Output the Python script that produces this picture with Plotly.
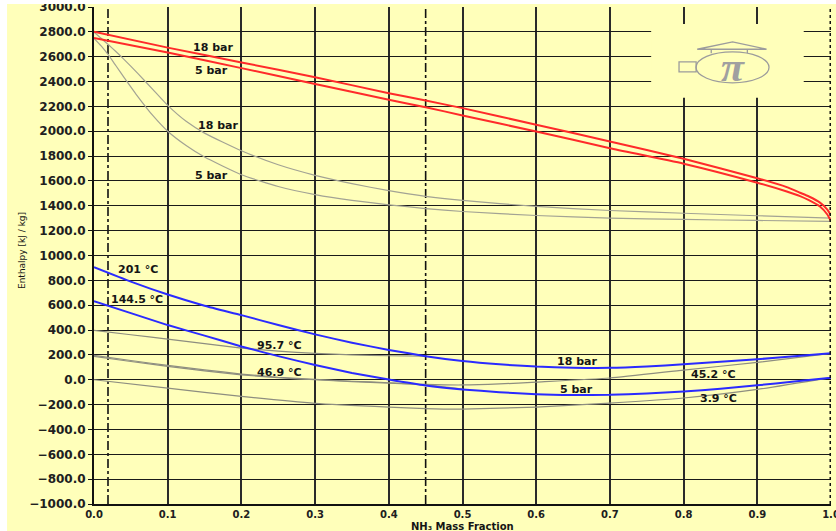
import plotly.graph_objects as go

# ---------------- data ----------------
# saturated vapour (dew) lines, red
dew_x = [0, 0.1, 0.2, 0.3, 0.4, 0.45, 0.5, 0.6, 0.7, 0.8, 0.9, 0.94, 0.958, 0.97, 0.985, 0.995, 1.0]
dew18_h = [2800, 2673, 2554, 2435, 2306, 2247, 2186, 2052, 1918, 1779, 1622, 1550, 1505, 1475, 1426, 1370, 1322]
dew5_h = [2750, 2633, 2508, 2381, 2253, 2194, 2127, 1998, 1864, 1739, 1586, 1515, 1478, 1445, 1394, 1330, 1275]

# auxiliary vapour lines, grey
aux_x = [0, 0.01, 0.02, 0.03, 0.04, 0.06, 0.08, 0.1, 0.125, 0.15, 0.2, 0.25, 0.3, 0.35, 0.4, 0.45, 0.5, 0.6, 0.7, 0.8, 0.9, 1.0]
aux18_h = [2797, 2747, 2694, 2640, 2583, 2462, 2335, 2208, 2080, 1985, 1843, 1730, 1645, 1578, 1522, 1476, 1443, 1395, 1362, 1340, 1320, 1301]
aux5_h = [2748, 2685, 2610, 2525, 2440, 2275, 2125, 2000, 1885, 1792, 1650, 1555, 1490, 1443, 1408, 1378, 1354, 1322, 1301, 1290, 1282, 1274]

# saturated liquid (bubble) lines, blue
bub_x = [0, 0.05, 0.1, 0.15, 0.2, 0.25, 0.3, 0.35, 0.4, 0.45, 0.5, 0.55, 0.6, 0.65, 0.7, 0.75, 0.8, 0.85, 0.9, 0.95, 1.0]
bub18_h = [906, 790, 686, 596, 520, 440, 365, 298, 240, 190, 151, 124, 106, 97, 96, 107, 124, 144, 165, 189, 213]
bub5_h = [633, 536, 440, 355, 268, 190, 119, 55, 2, -46, -78, -100, -117, -123, -121, -110, -95, -72, -45, -15, 17]

# liquid isotherms, grey
iso957_x = [0, 0.05, 0.1, 0.15, 0.2, 0.25, 0.3, 0.35, 0.4, 0.45]
iso957_h = [398, 362, 327, 290, 255, 230, 212, 200, 193, 190]
iso469_x = [0, 0.05, 0.1, 0.15, 0.2, 0.25, 0.3, 0.35, 0.4, 0.45, 0.5]
iso469_h = [196, 155, 115, 80, 46, 20, 3, -12, -24, -42, -76]
iso452_x = [0, 0.05, 0.1, 0.15, 0.2, 0.25, 0.3, 0.35, 0.4, 0.45, 0.5, 0.55, 0.6, 0.7, 0.8, 0.9, 1.0]
iso452_h = [188, 147, 108, 72, 40, 16, 0, -15, -27, -38, -42, -34, -19, 14, 78, 140, 213]
iso39_x = [0, 0.1, 0.2, 0.3, 0.4, 0.45, 0.5, 0.6, 0.7, 0.8, 0.9, 1.0]
iso39_h = [0, -67, -134, -190, -220, -232, -236, -220, -188, -147, -78, 17]

# reference vertical markers (mass fractions)
marker_x = [0.019, 0.45]

# tick values
x_ticks = [0.0, 0.1, 0.2, 0.3, 0.4, 0.5, 0.6, 0.7, 0.8, 0.9, 1.0]
y_ticks = [3000, 2800, 2600, 2400, 2200, 2000, 1800, 1600, 1400, 1200, 1000, 800, 600, 400,
           200, 0, -200, -400, -600, -800, -1000]

# curve labels
label_text = ["18 bar", "5 bar", "18 bar", "5 bar", "201 °C", "144.5 °C", "95.7 °C", "46.9 °C",
              "18 bar", "5 bar", "45.2 °C", "3.9 °C"]
label_x = [0.1615, 0.160, 0.168, 0.160, 0.0597, 0.0583, 0.252, 0.252, 0.655, 0.655, 0.841, 0.847]
label_y = [2671, 2486, 2044, 1641, 885, 644, 274, 56, 145, -80, 40, -153]

# ---------------- styling ----------------
BG = "#FFFFBA"
RED = "#FF2A2A"
BLUE = "#2A2AFF"
GREY_V = "#A3A394"
GREY_L = "#8E8E80"
LOGO = "#9C9C9C"
FONT = "DejaVu Sans"

fig = go.Figure()

def line(x, y, color, width):
    fig.add_trace(go.Scatter(x=x, y=y, mode="lines",
                             line=dict(color=color, width=width, shape="spline", smoothing=0.5),
                             hoverinfo="skip", showlegend=False))

line(aux_x, aux18_h, GREY_V, 1.2)
line(aux_x, aux5_h, GREY_V, 1.2)
line(iso957_x, iso957_h, GREY_L, 1.2)
line(iso469_x, iso469_h, GREY_L, 1.2)
line(iso452_x, iso452_h, GREY_L, 1.2)
line(iso39_x, iso39_h, GREY_L, 1.2)
line(dew_x, dew18_h, RED, 2)
line(dew_x, dew5_h, RED, 2)
line(bub_x, bub18_h, BLUE, 2)
line(bub_x, bub5_h, BLUE, 2)

for xv in marker_x:
    fig.add_vline(x=xv, line=dict(color="#111111", width=1.6, dash="dashdot"), layer="below")
fig.add_vline(x=x_ticks[-1], line=dict(color="#111111", width=3, dash="dot"), layer="above")

for t, xv, yv in zip(label_text, label_x, label_y):
    fig.add_annotation(x=xv, y=yv, text=t, showarrow=False, xanchor="center", yanchor="middle",
                       font=dict(family=FONT, size=11, color="#151515", weight="bold"))

# logo background box (hides grid)
fig.add_shape(type="rect", xref="x", yref="y", x0=0.756, x1=0.963, y0=2269, y1=2863,
              fillcolor=BG, line=dict(width=0), layer="between")
fig.add_shape(type="circle", xref="x", yref="y", x0=0.8168, x1=0.9159, y0=2390, y1=2639,
              line=dict(color=LOGO, width=1.3), layer="above")
fig.add_shape(type="rect", xref="x", yref="y", x0=0.7938, x1=0.8170, y0=2478, y1=2558,
              line=dict(color=LOGO, width=1.3), layer="above")
fig.add_shape(type="path", xref="x", yref="y",
              path="M 0.8185 2660 L 0.8665 2720 L 0.9125 2660 Z M 0.8375 2660 L 0.8375 2628 M 0.8865 2660 L 0.8865 2628",
              line=dict(color=LOGO, width=1.3), layer="above")
# white page border strips
fig.add_shape(type="rect", xref="paper", yref="paper", x0=-0.2, x1=-0.118, y0=-0.2, y1=1.2,
              fillcolor="white", line=dict(width=0), layer="above")
fig.add_shape(type="rect", xref="paper", yref="paper", x0=-0.2, x1=1.2, y0=1.006, y1=1.2,
              fillcolor="white", line=dict(width=0), layer="above")

fig.add_annotation(x=0.8665, y=2515, xref="x", yref="y", text="π", showarrow=False,
                   font=dict(family="Liberation Serif", size=42, color="#A0A0A0", weight="bold", style="italic"))

fig.add_annotation(xref="paper", yref="paper", x=-0.0977, y=0.511, text="Enthalpy [kJ / kg]",
                   textangle=-90, showarrow=False, xanchor="center", yanchor="middle",
                   font=dict(family=FONT, size=9, color="#151515"))
fig.add_annotation(xref="paper", yref="paper", x=0.5, y=-0.046, text="<b>NH₃ Mass Fraction</b>",
                   showarrow=False, xanchor="center", yanchor="middle",
                   font=dict(family=FONT, size=10, color="#151515"))

fig.update_xaxes(range=[0, 1.0], tickvals=x_ticks, tickformat=".1f", showgrid=True,
                 gridcolor="#2a2a2a", gridwidth=2, zeroline=False, showline=True,
                 linecolor="#111111", linewidth=2, ticks="", automargin=False,
                 ticklabeloverflow="allow", ticklabelstandoff=0,
                 tickfont=dict(family=FONT, size=10, color="#202020", weight="bold"))
fig.update_yaxes(range=[-1000, 3000], tickvals=y_ticks, tickformat=".1f", showgrid=True,
                 gridcolor="#1a1a1a", gridwidth=1.4, zeroline=False, showline=True,
                 linecolor="#111111", linewidth=2, ticks="outside", ticklen=4, tickcolor="#111111",
                 automargin=False,
                 tickfont=dict(family=FONT, size=12, color="#202020", weight="bold"))

fig.update_layout(width=836, height=531, margin=dict(l=94, r=5, t=7, b=27, autoexpand=False),
                  paper_bgcolor=BG, plot_bgcolor=BG, showlegend=False)

fig.write_html("out.html", config={"displayModeBar": False},
               post_script="document.body.style.margin='0px';document.body.style.overflow='hidden';")
